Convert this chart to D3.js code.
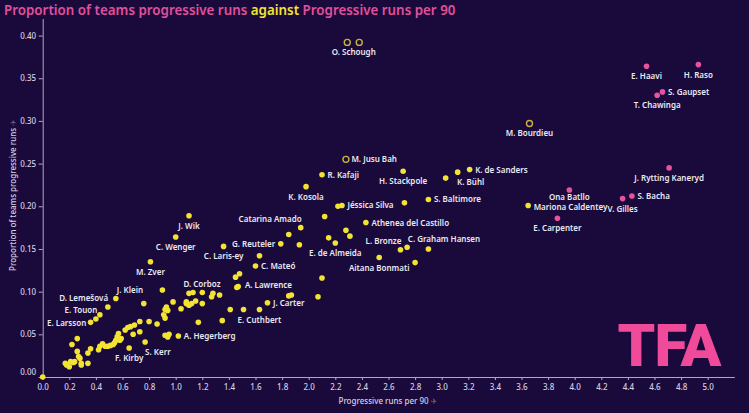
<!DOCTYPE html>
<html>
<head>
<meta charset="utf-8">
<script src="https://cdn.jsdelivr.net/npm/d3@7"></script>
<style>
  html, body { margin: 0; padding: 0; background: #1a0a3b; }
  svg { display: block; }
</style>
</head>
<body>
<svg id="chart" width="749" height="413"></svg>
<script>
// ---------- DATA ----------
const titleParts = ["Proportion of teams progressive runs ", "against", " Progressive runs per 90"];
const xTitle = "Progressive runs per 90";
const yTitle = "Proportion of teams progressive runs";

const xTickValues = [0,0.2,0.4,0.6,0.8,1.0,1.2,1.4,1.6,1.8,2.0,2.2,2.4,2.6,2.8,3.0,3.2,3.4,3.6,3.8,4.0,4.2,4.4,4.6,4.8,5.0];
const yTickValues = [0,0.05,0.10,0.15,0.20,0.25,0.30,0.35,0.40];

// pink (highlighted) players
const pinkNames = ["H. Raso","E. Haavi","S. Gaupset","T. Chawinga","J. Rytting Kaneryd","S. Bacha","V. Gilles","Ona Batllo","E. Carpenter"];
const pinkRuns  = [4.93, 4.54, 4.66, 4.62, 4.71, 4.43, 4.36, 3.96, 3.87];
const pinkShare = [0.366, 0.364, 0.334, 0.330, 0.245, 0.212, 0.209, 0.219, 0.186];

// hollow (ring) players
const ringNames = ["O. Schough","","M. Bourdieu","M. Jusu Bah"];
const ringRuns  = [2.29, 2.38, 3.66, 2.28];
const ringShare = [0.392, 0.392, 0.297, 0.255];

// yellow labelled players
const yellowNames = ["Mariona Caldentey","K. de Sanders","R. Kafaji","H. Stackpole","K. Bühl","K. Kosola","Jéssica Silva","S. Baltimore",
  "Catarina Amado","Athenea del Castillo","E. de Almeida","L. Bronze","C. Graham Hansen","Aitana Bonmati","G. Reuteler","C. Laris-ey",
  "C. Mateó","J. Wik","C. Wenger","M. Zver","J. Klein","D. Lemešová","E. Touon","E. Larsson","D. Corboz","A. Lawrence","J. Carter",
  "E. Cuthbert","A. Hegerberg","S. Kerr","F. Kirby"];
const yellowRuns  = [3.65, 3.21, 2.10, 2.71, 3.12, 1.98, 2.25, 2.90,
  1.94, 2.43, 2.20, 2.69, 2.90, 2.53, 1.79, 1.36,
  1.60, 1.10, 1.00, 0.81, 0.90, 0.55, 0.43, 0.36, 1.13, 1.46, 1.69,
  1.63, 1.02, 0.77, 0.65];
const yellowShare = [0.201, 0.243, 0.237, 0.241, 0.240, 0.223, 0.201, 0.208,
  0.175, 0.181, 0.157, 0.149, 0.150, 0.140, 0.156, 0.153,
  0.130, 0.189, 0.164, 0.135, 0.102, 0.092, 0.073, 0.064, 0.099, 0.105, 0.087,
  0.079, 0.048, 0.041, 0.034];

// other (unlabelled) yellow players
const otherRuns = [0.00,0.17,0.18,0.20,0.21,0.23,0.24,0.22,0.26,0.26,0.27,0.28,0.29,0.29,0.34,0.34,0.36,
  0.42,0.43,0.45,0.47,0.49,0.51,0.53,0.54,0.55,0.56,0.57,0.58,0.59,0.62,0.64,0.66,0.68,0.69,0.73,0.73,
  0.80,0.86,0.91,0.92,0.92,0.93,0.94,0.92,0.94,0.95,0.98,1.04,1.08,1.08,1.10,1.12,1.15,1.10,1.20,1.17,
  1.20,1.28,1.27,1.33,1.35,1.41,1.45,1.48,1.47,1.51,1.63,1.85,1.93,2.12,2.22,2.28,2.31,2.15,2.74,2.80,
  2.72,3.03,2.10,1.85,1.87,0.40,0.49,0.76,2.07];
const otherShare = [0.000,0.016,0.014,0.012,0.018,0.017,0.018,0.038,0.045,0.030,0.024,0.022,0.016,0.014,0.028,0.016,0.033,
  0.032,0.036,0.039,0.036,0.036,0.037,0.038,0.040,0.043,0.047,0.051,0.043,0.045,0.055,0.058,0.059,0.050,0.061,0.065,0.053,
  0.065,0.062,0.073,0.069,0.079,0.082,0.078,0.049,0.047,0.050,0.088,0.080,0.086,0.088,0.084,0.086,0.089,0.098,0.099,0.064,
  0.086,0.098,0.094,0.096,0.066,0.079,0.117,0.121,0.106,0.079,0.142,0.167,0.155,0.188,0.200,0.172,0.165,0.163,0.152,0.134,
  0.204,0.233,0.116,0.095,0.096,0.068,0.082,0.086,0.094];

// label placement: "b" below, "r" right, "l" left, or [dx, dy, anchor]
const labelPlace = {
  "H. Raso":"b","E. Haavi":"b","S. Gaupset":"r","T. Chawinga":"b","J. Rytting Kaneryd":"b","S. Bacha":"r","V. Gilles":"b",
  "Ona Batllo":[0,6.6,"middle"],"E. Carpenter":"b","O. Schough":[6.5,10,"middle"],"M. Bourdieu":"b","M. Jusu Bah":"r",
  "Mariona Caldentey":[5.5,1.2,"start"],"K. de Sanders":"r","R. Kafaji":"r","H. Stackpole":"b","K. Bühl":[13,10.3,"middle"],"K. Kosola":"b",
  "Jéssica Silva":"r","S. Baltimore":"r","Catarina Amado":[-30.6,-9,"middle"],"Athenea del Castillo":"r","E. de Almeida":"b",
  "L. Bronze":[-17,-9,"middle"],"C. Graham Hansen":[15.6,-10,"middle"],"Aitana Bonmati":"b","G. Reuteler":"l","C. Laris-ey":"b",
  "C. Mateó":"r","J. Wik":"b","C. Wenger":"b","M. Zver":"b","J. Klein":[-19.4,0,"end"],"D. Lemešová":[-7.7,0,"end"],
  "E. Touon":[-2.6,-5,"end"],"E. Larsson":[-4.3,0.6,"end"],"D. Corboz":[9,-8.4,"middle"],"A. Lawrence":[8,-2,"start"],
  "J. Carter":"r","E. Cuthbert":"b","A. Hegerberg":"r","S. Kerr":[0,10.4,"start"],"F. Kirby":"b"
};

// ---------- STYLE ----------
const BG = "#1a0a3b", PINK = "#e8529d", YELLOW = "#f3e332", RING = "#c9b23e";
const AXIS = "#aea9c4", TICKTXT = "#d4d0e2", LABEL = "#ebe9f2";
const FONT = "'Noto Sans', 'DejaVu Sans', sans-serif";

const svg = d3.select("#chart");
svg.append("rect").attr("width", 749).attr("height", 413).attr("fill", BG);

const x = d3.scaleLinear().domain([0, 5.2]).range([42.7, 734.3]);
const y = d3.scaleLinear().domain([0, 0.42]).range([377, 18.5]);

// title
const title = svg.append("text").attr("x", 4).attr("y", 15)
  .attr("font-family", FONT).attr("font-weight", 600).attr("font-size", 13);
title.append("tspan").text(titleParts[0]).attr("fill", "#e0509b");
title.append("tspan").text(titleParts[1]).attr("fill", YELLOW);
title.append("tspan").text(titleParts[2]).attr("fill", "#e0509b");
const tl = title.node().getComputedTextLength();
title.attr("font-size", 13 * 452 / tl);

// axes
const gx = svg.append("g").attr("transform", "translate(0,377)")
  .call(d3.axisBottom(x).tickValues(xTickValues).tickFormat(d3.format(".1f")).tickSize(3).tickSizeOuter(0));
const gy = svg.append("g").attr("transform", "translate(42.7,0)")
  .call(d3.axisLeft(y).tickValues(yTickValues).tickFormat(d3.format(".2f")).tickSize(4).tickSizeOuter(0));
[gx, gy].forEach(g => {
  g.select(".domain").attr("stroke", AXIS).attr("stroke-width", 1);
  g.selectAll(".tick line").attr("stroke", AXIS);
  g.selectAll(".tick text").attr("fill", TICKTXT).attr("font-family", FONT)
    .attr("font-size", 8).attr("font-weight", 500);
});
gx.selectAll(".tick text").attr("dy", "0.9em");
gy.selectAll(".tick text").attr("x", -6.5);
gy.selectAll(".tick").filter(d => d === 0).select("text").attr("dy", "-0.3em");

// axis titles
svg.append("text").attr("x", 388).attr("y", 404).attr("text-anchor", "middle")
  .attr("font-family", FONT).attr("font-size", 8).attr("font-weight", 500).attr("fill", TICKTXT)
  .text(xTitle).append("tspan").attr("fill-opacity", 0.45).text(" ✈");
svg.append("text").attr("transform", "translate(16,195) rotate(-90)").attr("text-anchor", "middle")
  .attr("font-family", FONT).attr("font-size", 8).attr("font-weight", 500).attr("fill", TICKTXT)
  .text(yTitle).append("tspan").attr("fill-opacity", 0.45).text(" ✈");

// logo
svg.append("text").attr("x", 669).attr("y", 366).attr("text-anchor", "middle")
  .attr("font-family", "Roboto, 'DejaVu Sans', sans-serif").attr("font-weight", 900)
  .attr("font-size", 60).attr("letter-spacing", -1).attr("fill", "#f04a9b").text("TFA");

// points
const other = otherRuns.map((v, i) => ({ x: v, y: otherShare[i] }));
const yellow = yellowNames.map((n, i) => ({ name: n, x: yellowRuns[i], y: yellowShare[i] }));
const pink = pinkNames.map((n, i) => ({ name: n, x: pinkRuns[i], y: pinkShare[i] }));
const ring = ringNames.map((n, i) => ({ name: n, x: ringRuns[i], y: ringShare[i] }));

const pts = svg.append("g");
pts.selectAll(".o").data(other).join("circle").attr("cx", d => x(d.x)).attr("cy", d => y(d.y))
  .attr("r", 2.8).attr("fill", YELLOW);
pts.selectAll(".yl").data(yellow).join("circle").attr("cx", d => x(d.x)).attr("cy", d => y(d.y))
  .attr("r", 2.8).attr("fill", YELLOW);
pts.selectAll(".pk").data(pink).join("circle").attr("cx", d => x(d.x)).attr("cy", d => y(d.y))
  .attr("r", 2.8).attr("fill", PINK);
pts.selectAll(".rg").data(ring).join("circle").attr("cx", d => x(d.x)).attr("cy", d => y(d.y))
  .attr("r", 3).attr("fill", BG).attr("stroke", RING).attr("stroke-width", 1.4);

// labels
const labelled = [...pink, ...ring, ...yellow].filter(d => d.name);
const lab = svg.append("g").attr("font-family", FONT).attr("font-size", 8).attr("font-weight", 600).attr("fill", LABEL);
labelled.forEach(d => {
  let p = labelPlace[d.name] || "r";
  if (p === "b") p = [0, 10, "middle"];
  else if (p === "r") p = [5.5, 0, "start"];
  else if (p === "l") p = [-5.5, 0, "end"];
  lab.append("text").attr("x", x(d.x) + p[0]).attr("y", y(d.y) + p[1] + 3)
    .attr("text-anchor", p[2]).text(d.name);
});
</script>
</body>
</html>
